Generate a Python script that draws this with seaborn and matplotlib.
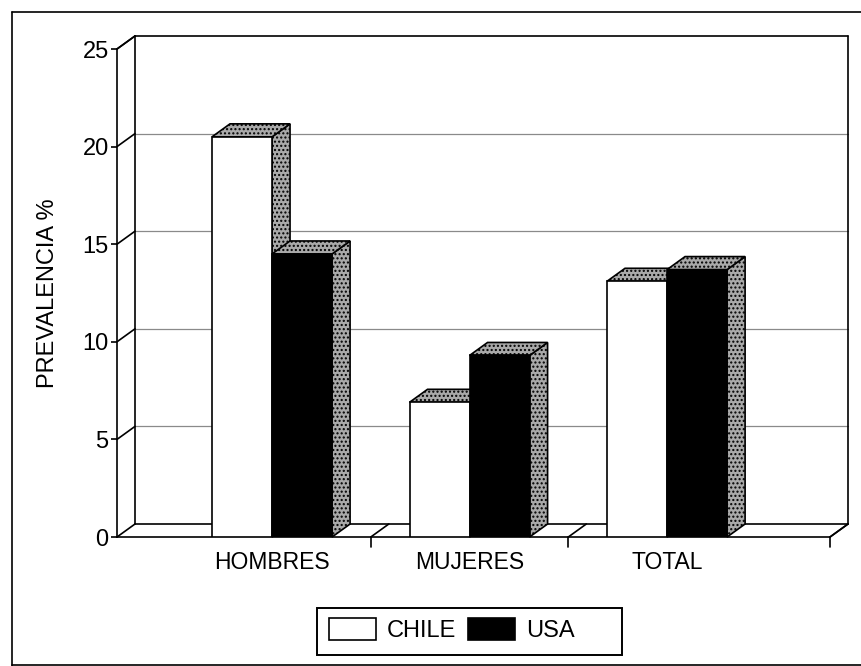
import numpy as np
import pandas as pd
import matplotlib
matplotlib.use("Agg")
import matplotlib.pyplot as plt
from matplotlib.patches import Polygon, Patch, Rectangle
from matplotlib.lines import Line2D
import seaborn as sns

# Prevalence (%) by group and country
grupos = ["HOMBRES", "MUJERES", "TOTAL"]
chile = [20.5, 6.9, 13.1]
usa = [14.5, 9.3, 13.7]
paises = ["CHILE", "USA"]
y_ticks = [0, 5, 10, 15, 20, 25]

df = pd.DataFrame({
    "grupo": grupos * 2,
    "pais": ["CHILE"] * 3 + ["USA"] * 3,
    "prevalencia": chile + usa,
})

sns.set_theme(style="white")
plt.rcParams["font.family"] = ["Liberation Sans", "DejaVu Sans"]

W, H = 861, 666
fig = plt.figure(figsize=(W / 100, H / 100), dpi=100)
fig.patch.set_facecolor("white")

# front plane of the 3-D box, in pixels
ax_l, ax_r, ax_b, ax_t = 117, 830, 537, 49
ax = fig.add_axes([ax_l / W, 1 - ax_b / H, (ax_r - ax_l) / W, (ax_b - ax_t) / H])

xmin, xmax = -0.785, 2.825
ymin, ymax = 0, 25
ax.set_xlim(xmin, xmax)
ax.set_ylim(ymin, ymax)

px_x = (xmax - xmin) / (ax_r - ax_l)   # data units per pixel (x)
px_y = (ymax - ymin) / (ax_b - ax_t)   # data units per pixel (y)
DX, DY = 18 * px_x, 13 * px_y           # depth offset of the box

sns.barplot(data=df, x="grupo", y="prevalencia", hue="pais", order=grupos,
            hue_order=paises, palette={"CHILE": "white", "USA": "black"},
            width=0.608, gap=0, edgecolor="black", linewidth=1.2,
            legend=False, ax=ax)
ax.set_xlim(xmin, xmax)
ax.set_ylim(ymin, ymax)

wall = dict(color="black", lw=1.2, clip_on=False, zorder=1)
grid = dict(color="#8a8a8a", lw=0.9, clip_on=False, zorder=0.9)

# back wall, left wall and floor outlines
ax.add_line(Line2D([xmin + DX, xmin + DX], [DY, ymax + DY], **wall))
ax.add_line(Line2D([xmax + DX, xmax + DX], [DY, ymax + DY], **wall))
ax.add_line(Line2D([xmin + DX, xmax + DX], [ymax + DY, ymax + DY], **wall))
ax.add_line(Line2D([xmin + DX, xmax + DX], [DY, DY], **wall))
ax.add_line(Line2D([xmin, xmin + DX], [ymax, ymax + DY], **wall))
ax.add_line(Line2D([xmax, xmax + DX], [0, DY], **wall))
for v in y_ticks:
    ax.add_line(Line2D([xmin, xmin + DX], [v, v + DY], **wall))
    if 0 < v < ymax:
        ax.add_line(Line2D([xmin + DX, xmax + DX], [v + DY, v + DY], **grid))

# category separators on the floor
for xs in [0.5, 1.5, xmax]:
    ax.add_line(Line2D([xs, xs + DX], [0, DY], **wall))
    ax.add_line(Line2D([xs, xs], [0, -10 * px_y], **wall))

# 3-D side and top faces for every bar
plt.rcParams["hatch.color"] = "#5a5a5a"
bars = sorted([p for p in ax.patches if p.get_height() > 0], key=lambda p: p.get_x())
shade = dict(facecolor="#a9a9a9", edgecolor="black", lw=1.2, hatch="....")
for k, p in enumerate(bars):
    x0, w, h = p.get_x(), p.get_width(), p.get_height()
    x1 = x0 + w
    p.set_zorder(2.5 + k)
    side = Polygon([(x1, 0), (x1 + DX, DY), (x1 + DX, h + DY), (x1, h)],
                   closed=True, zorder=2 + k, clip_on=False, **shade)
    top = Polygon([(x0, h), (x0 + DX, h + DY), (x1 + DX, h + DY), (x1, h)],
                  closed=True, zorder=2 + k, clip_on=False, **shade)
    ax.add_patch(side)
    ax.add_patch(top)

# axes styling
for s in ["top", "right"]:
    ax.spines[s].set_visible(False)
for s in ["left", "bottom"]:
    ax.spines[s].set_color("black")
    ax.spines[s].set_linewidth(1.2)
    ax.spines[s].set_zorder(1)
ax.set_yticks(y_ticks)
ax.tick_params(axis="y", length=4, width=1.2, color="black", direction="out",
               pad=2, labelsize=17, labelcolor="black", left=True)
ax.tick_params(axis="x", length=0, pad=10, labelsize=16.5, labelcolor="black")
ax.set_xlabel("")
ax.set_ylabel("PREVALENCIA %", fontsize=17, color="black")
ax.yaxis.set_label_coords(-(ax_l - 59) / (ax_r - ax_l), 0.5)
ax.set_facecolor("none")

# legend with its own box
fig.add_artist(Rectangle((317 / W, 1 - 655 / H), (622 - 317) / W, (655 - 608) / H,
                         transform=fig.transFigure, facecolor="white",
                         edgecolor="black", lw=1.4, zorder=5))
handles = [Patch(facecolor="white", edgecolor="black", lw=1.2, label="CHILE"),
           Patch(facecolor="black", edgecolor="black", lw=1.2, label="USA")]
leg = fig.legend(handles=handles, loc="center left", ncol=2,
                 bbox_to_anchor=(329 / W, 1 - 630 / H),
                 fontsize=17, frameon=False, borderpad=0, borderaxespad=0,
                 handlelength=2.0, handleheight=1.05, handletextpad=0.45,
                 columnspacing=0.5)
leg.set_zorder(6)
for t in leg.get_texts():
    t.set_color("black")

# outer frame
frame = dict(color="black", lw=1.2, transform=fig.transFigure)
fig.add_artist(Line2D([12 / W, 12 / W], [0, 1 - 12 / H], **frame))
fig.add_artist(Line2D([12 / W, 1], [1 - 12 / H, 1 - 12 / H], **frame))
fig.add_artist(Line2D([12 / W, 1], [1.5 / H, 1.5 / H], **frame))

fig.savefig("out.png", dpi=100)
